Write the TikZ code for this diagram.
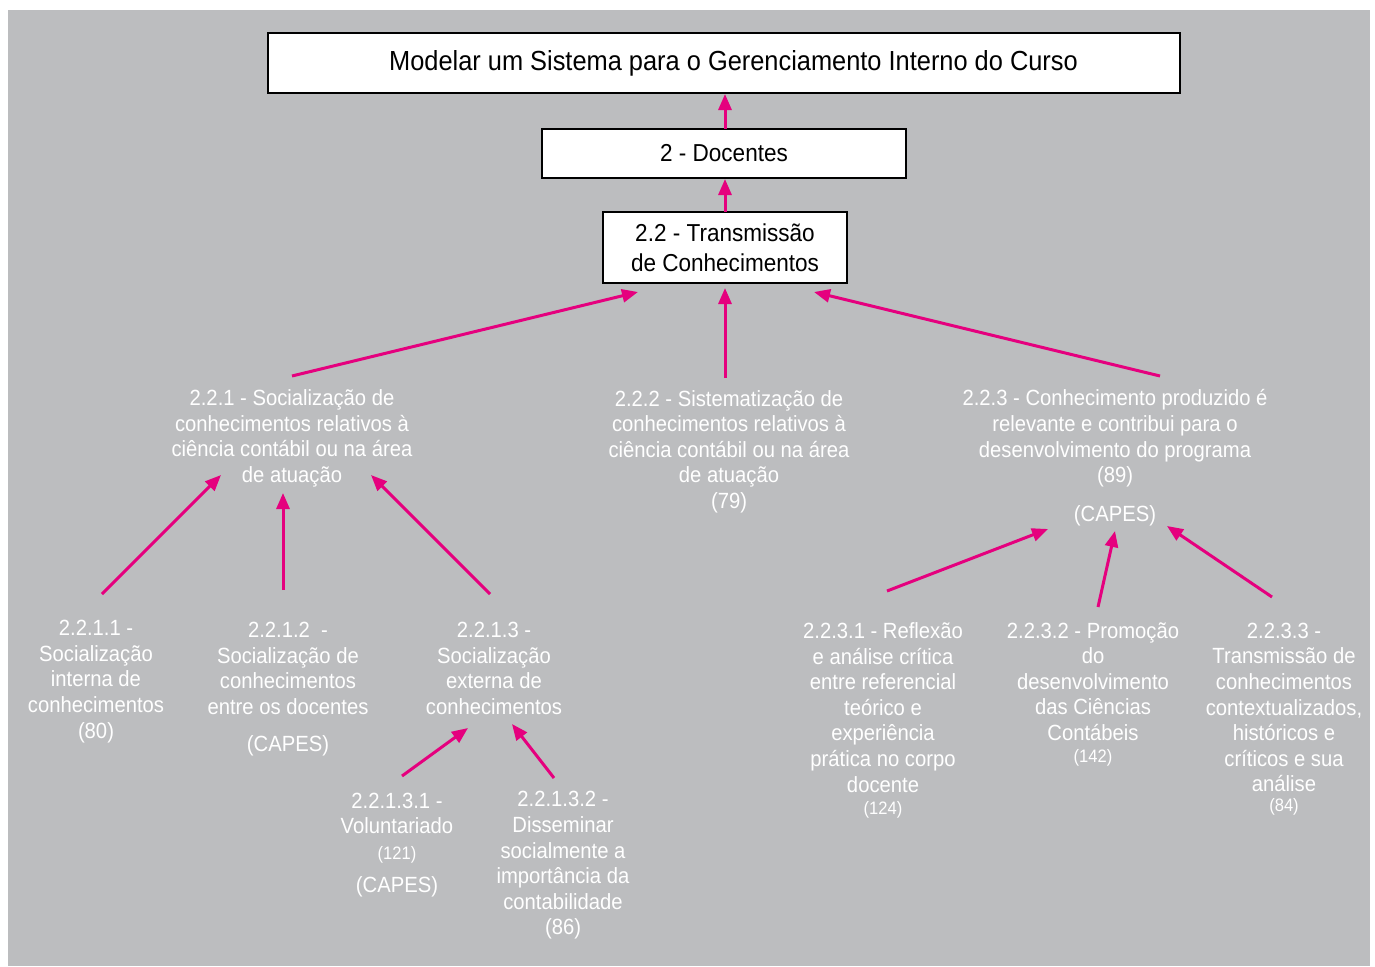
\documentclass[tikz,border=0pt]{standalone}
\usepackage{fontspec}
\setmainfont{Liberation Sans}[FakeStretch=0.92]
\usetikzlibrary{arrows.meta}
\definecolor{bggray}{HTML}{BCBDBF}
\definecolor{pinkarrow}{HTML}{E5007E}
\tikzset{
  box/.style={draw=black, line width=2pt, fill=white, inner sep=0pt, align=center, text=black},
  lbl/.style={text=white, align=center, inner sep=0pt, yshift=-2.5pt, font=\fontsize{22}{25.6}\selectfont},
  lblsmall/.style={text=white, align=center, inner sep=0pt, yshift=-2.5pt, font=\fontsize{18}{22}\selectfont},
  arr/.style={draw=pinkarrow, line width=3pt, -{Triangle[length=16pt,width=13pt]}},
}
\begin{document}
\begin{tikzpicture}[x=1pt,y=-1pt]
\useasboundingbox (0,0) rectangle (1375,966);
\fill[white] (0,0) rectangle (1375,966);
\fill[bggray] (8,10) rectangle (1370,966);

% boxes
\node[box, minimum width=912pt, minimum height=60pt, font=\fontsize{27.6}{30}\selectfont] (top) at (724,63) {\hspace*{19pt}Modelar um Sistema para o Gerenciamento Interno do Curso};
\node[box, minimum width=364pt, minimum height=49pt, font=\fontsize{24.5}{30}\selectfont] (doc) at (724,153.5) {2 - Docentes};
\node[box, minimum width=244pt, minimum height=71pt, font=\fontsize{24.5}{30}\selectfont] (t22) at (725,247.5) {2.2 - Transmissão\\de Conhecimentos};

% level 2.2.x
\node[lbl] (n221) at (292,436) {2.2.1 - Socialização de\\conhecimentos relativos à\\ciência contábil ou na área\\de atuação};
\node[lbl] (n222) at (729,449) {2.2.2 - Sistematização de\\conhecimentos relativos à\\ciência contábil ou na área\\de atuação\\(79)};
\node[lbl] (n223) at (1115,436) {2.2.3 - Conhecimento produzido é\\relevante e contribui para o\\desenvolvimento do programa\\(89)};
\node[lbl] (n223c) at (1115,513) {(CAPES)};

% level 2.2.1.x
\node[lbl] (n2211) at (96,679) {2.2.1.1 -\\Socialização\\interna de\\conhecimentos\\(80)};
\node[lbl] (n2212) at (288,666) {2.2.1.2\ \ -\\Socialização de\\conhecimentos\\entre os docentes};
\node[lbl] (n2212c) at (288,743) {(CAPES)};
\node[lbl] (n2213) at (494,666) {2.2.1.3 -\\Socialização\\externa de\\conhecimentos};

% level 2.2.1.3.x
\node[lbl] (n22131) at (397,811) {2.2.1.3.1 -\\Voluntariado};
\node[lblsmall] (n22131n) at (397,852) {(121)};
\node[lbl] (n22131c) at (397,884) {(CAPES)};
\node[lbl] (n22132) at (563,863) {2.2.1.3.2 -\\Disseminar\\socialmente a\\importância da\\contabilidade\\(86)};

% level 2.2.3.x
\node[lbl] (n2231) at (883,705) {2.2.3.1 - Reflexão\\e análise crítica\\entre referencial\\teórico e\\experiência\\prática no corpo\\docente};
\node[lblsmall] (n2231n) at (883,807) {(124)};
\node[lbl] (n2232) at (1093,679) {2.2.3.2 - Promoção\\do\\desenvolvimento\\das Ciências\\Contábeis};
\node[lblsmall] (n2232n) at (1093,755) {(142)};
\node[lbl] (n2233) at (1284,705) {2.2.3.3 -\\Transmissão de\\conhecimentos\\contextualizados,\\históricos e\\críticos e sua\\análise};
\node[lblsmall] (n2233n) at (1284,804) {(84)};

% arrow end points
\coordinate (a1s) at (725,129); \coordinate (a1e) at (725,94);
\coordinate (a2s) at (725,212); \coordinate (a2e) at (725,179);
\coordinate (a3s) at (292,376); \coordinate (a3e) at (638,292);
\coordinate (a4s) at (725,378); \coordinate (a4e) at (725,288);
\coordinate (a5s) at (1160,376); \coordinate (a5e) at (814,292);
\coordinate (b1s) at (102,594); \coordinate (b1e) at (221,475);
\coordinate (b2s) at (283,590); \coordinate (b2e) at (283,493);
\coordinate (b3s) at (490,594); \coordinate (b3e) at (371,475);
\coordinate (c1s) at (402,776); \coordinate (c1e) at (468,728);
\coordinate (c2s) at (554,778); \coordinate (c2e) at (512,724);
\coordinate (d1s) at (887,591); \coordinate (d1e) at (1048,529);
\coordinate (d2s) at (1098,607); \coordinate (d2e) at (1115,531);
\coordinate (d3s) at (1272,597); \coordinate (d3e) at (1167,526);

\draw[arr] (a1s) -- (a1e);
\draw[arr] (a2s) -- (a2e);
\draw[arr] (a3s) -- (a3e);
\draw[arr] (a4s) -- (a4e);
\draw[arr] (a5s) -- (a5e);
\draw[arr] (b1s) -- (b1e);
\draw[arr] (b2s) -- (b2e);
\draw[arr] (b3s) -- (b3e);
\draw[arr] (c1s) -- (c1e);
\draw[arr] (c2s) -- (c2e);
\draw[arr] (d1s) -- (d1e);
\draw[arr] (d2s) -- (d2e);
\draw[arr] (d3s) -- (d3e);
\end{tikzpicture}
\end{document}
